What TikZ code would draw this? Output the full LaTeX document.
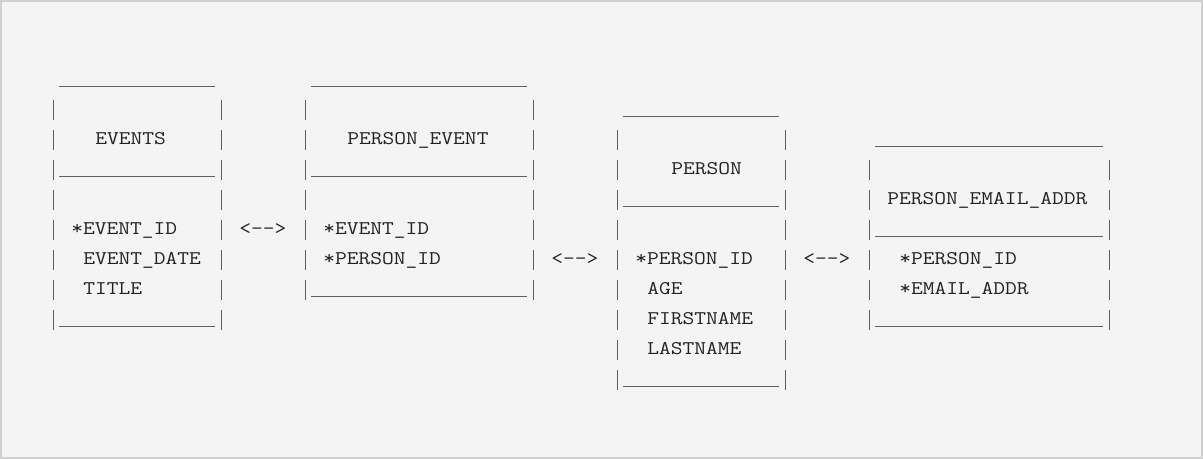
\documentclass[tikz,border=0pt]{standalone}
\usepackage{graphicx}

\definecolor{ink}{HTML}{222222}
\definecolor{edge}{HTML}{5F5F5F}
\definecolor{paper}{HTML}{F4F4F4}
\definecolor{frameline}{HTML}{D0D0D0}

% one unit = one pixel, y grows downwards; column c, row r of the character grid
\tikzset{
  x=0.75pt, y=-0.75pt,
  glyphs/.style={anchor=base west, inner sep=0pt, outer sep=0pt, text=ink,
                 font=\ttfamily\fontsize{14.5}{17}\selectfont},
  boxline/.style={draw=edge, line width=1.4pt*0.75},
}

% text at a grid cell (name, column, row, text)
\newcommand\gridtext[4]{%
  \node[glyphs] (#1) at ({47.3+12*(#2)},{55+30*(#3)}) {\scalebox{1.182}[1]{#4}};}
% a run of underscores (row, first column, last column)
\newcommand\underrun[3]{%
  \draw[boxline] ({47.3+12*(#2)},{56.7+30*(#1)}) -- ({47.3+12*(#3+1)},{56.7+30*(#1)});}
% the side bars of a table (left column, right column, first row, last row)
\newcommand\sidebars[4]{%
  \foreach \r in {#3,...,#4}{%
    \draw[boxline] ({53.3+12*(#1)},{40+30*\r}) -- ++(0,20);
    \draw[boxline] ({53.3+12*(#2)},{40+30*\r}) -- ++(0,20);
  }}

\begin{document}
\begin{tikzpicture}
  % page with its light frame
  \fill[paper] (0,0) rectangle (1203,459);
  \draw[frameline, line width=2pt*0.75] (1,1) rectangle (1202,458);

  % EVENTS
  \underrun{1}{1}{13}
  \sidebars{0}{14}{2}{9}
  \gridtext{events}{4}{3}{EVENTS}
  \underrun{4}{1}{13}
  \gridtext{events-id}{2}{6}{*EVENT\_ID}
  \gridtext{events-date}{3}{7}{EVENT\_DATE}
  \gridtext{events-title}{3}{8}{TITLE}
  \underrun{9}{1}{13}

  % PERSON_EVENT
  \underrun{1}{22}{39}
  \sidebars{21}{40}{2}{8}
  \gridtext{pe}{25}{3}{PERSON\_EVENT}
  \underrun{4}{22}{39}
  \gridtext{pe-event}{23}{6}{*EVENT\_ID}
  \gridtext{pe-person}{23}{7}{*PERSON\_ID}
  \underrun{8}{22}{39}

  % PERSON
  \underrun{2}{48}{60}
  \sidebars{47}{61}{3}{11}
  \gridtext{person}{52}{4}{PERSON}
  \underrun{5}{48}{60}
  \gridtext{person-id}{49}{7}{*PERSON\_ID}
  \gridtext{person-age}{50}{8}{AGE}
  \gridtext{person-first}{50}{9}{FIRSTNAME}
  \gridtext{person-last}{50}{10}{LASTNAME}
  \underrun{11}{48}{60}

  % PERSON_EMAIL_ADDR
  \underrun{3}{69}{87}
  \sidebars{68}{88}{4}{9}
  \gridtext{mail}{70}{5}{PERSON\_EMAIL\_ADDR}
  \underrun{6}{69}{87}
  \gridtext{mail-person}{71}{7}{*PERSON\_ID}
  \gridtext{mail-addr}{71}{8}{*EMAIL\_ADDR}
  \underrun{9}{69}{87}

  % links between the tables
  \gridtext{link-events-pe}{16}{6}{<-->}
  \gridtext{link-pe-person}{42}{7}{<-->}
  \gridtext{link-person-mail}{63}{7}{<-->}
\end{tikzpicture}
\end{document}
